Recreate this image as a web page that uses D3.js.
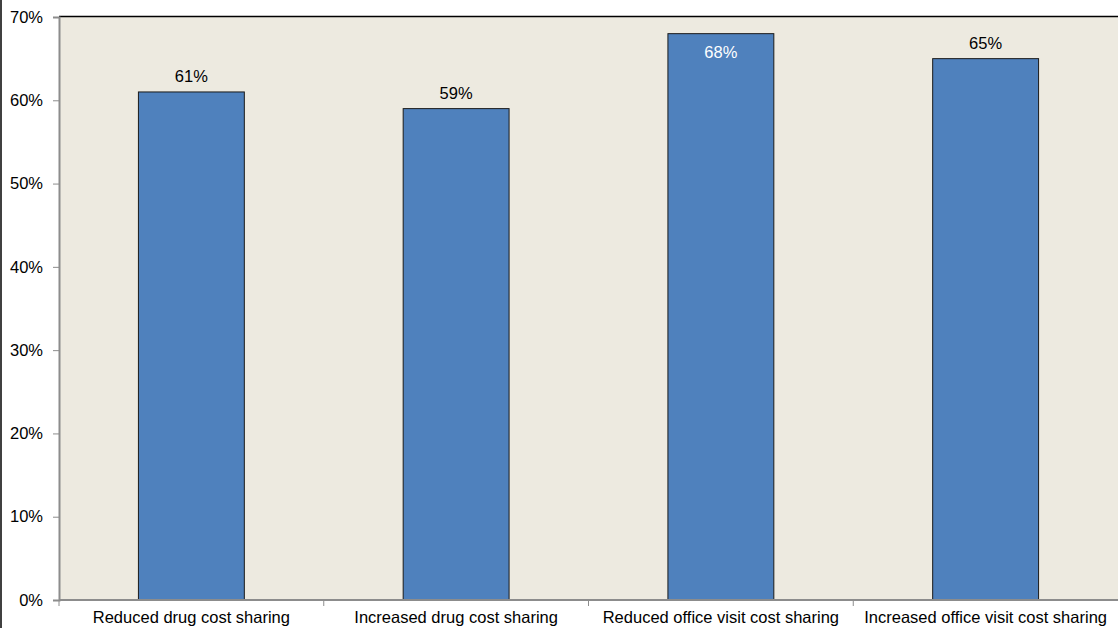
<!DOCTYPE html>
<html>
<head>
<meta charset="utf-8">
<script src="https://cdn.jsdelivr.net/npm/d3@7"></script>
<style>
  html, body { margin: 0; padding: 0; background: #fff; }
  svg { display: block; }
  text { font-family: "Liberation Sans", Arial, sans-serif; }
</style>
</head>
<body>
<svg id="chart" width="1118" height="628"></svg>
<script>
// Share of respondents by cost-sharing change
const categories = [
  "Reduced drug cost sharing",
  "Increased drug cost sharing",
  "Reduced office visit cost sharing",
  "Increased office visit cost sharing"
];
const values = [61, 59, 68, 65];
const yTicks = [0, 10, 20, 30, 40, 50, 60, 70];

const W = 1118, H = 628;
const margin = { top: 17, right: 0, bottom: 28, left: 59 };
const FS = 16.5;
const svg = d3.select("#chart");

const x = d3.scaleBand()
  .domain(categories)
  .range([margin.left, W - margin.right])
  .paddingInner(0)
  .paddingOuter(0);

const y = d3.scaleLinear()
  .domain([0, 70])
  .range([H - margin.bottom, margin.top]);

// outer frame line on the left
svg.append("line")
  .attr("x1", 1).attr("x2", 1)
  .attr("y1", 0).attr("y2", H)
  .attr("stroke", "#000").attr("stroke-width", 1.5);

// plot background
svg.append("rect")
  .attr("x", margin.left)
  .attr("y", margin.top)
  .attr("width", W - margin.right - margin.left)
  .attr("height", y(0) - margin.top)
  .attr("fill", "#EDEAE0");

// top border of the plot area
svg.append("line")
  .attr("x1", margin.left).attr("x2", W)
  .attr("y1", margin.top - 0.5).attr("y2", margin.top - 0.5)
  .attr("stroke", "#000").attr("stroke-width", 1.5);

// bars
const barW = x.bandwidth() * 0.4;
svg.selectAll("rect.bar")
  .data(values)
  .join("rect")
  .attr("class", "bar")
  .attr("x", (d, i) => x(categories[i]) + (x.bandwidth() - barW) / 2)
  .attr("y", d => y(d))
  .attr("width", barW)
  .attr("height", d => y(0) - y(d))
  .attr("fill", "#4F81BD")
  .attr("stroke", "#1a1a1a")
  .attr("stroke-width", 1);

// value labels: above the bar, or inside near the top when there is no room
const inside = d => (y(d) - margin.top < 30);
svg.selectAll("text.val")
  .data(values)
  .join("text")
  .attr("class", "val")
  .attr("x", (d, i) => x(categories[i]) + x.bandwidth() / 2)
  .attr("y", d => inside(d) ? y(d) + 24 : y(d) - 10)
  .attr("text-anchor", "middle")
  .attr("font-size", FS)
  .attr("fill", d => inside(d) ? "#ffffff" : "#000000")
  .text(d => d + "%");

// y axis
const yAxis = d3.axisLeft(y)
  .tickValues(yTicks)
  .tickSize(6)
  .tickFormat(d => d + "%");
const gy = svg.append("g")
  .attr("transform", `translate(${margin.left},0)`)
  .call(yAxis);
gy.select(".domain").attr("stroke", "#8c8c8c").attr("stroke-width", 2);
gy.selectAll(".tick line").attr("stroke", "#8c8c8c");
gy.selectAll(".tick text")
  .attr("font-size", FS)
  .attr("fill", "#000")
  .attr("x", -16)
  .attr("font-family", "Liberation Sans, Arial, sans-serif");

// x axis: ticks sit on category boundaries
const gx = svg.append("g")
  .attr("transform", `translate(0,${y(0)})`);
gx.append("line")
  .attr("x1", margin.left).attr("x2", W)
  .attr("y1", 0).attr("y2", 0)
  .attr("stroke", "#8c8c8c").attr("stroke-width", 2);
gx.selectAll("line.sep")
  .data(categories)
  .join("line")
  .attr("class", "sep")
  .attr("x1", d => x(d)).attr("x2", d => x(d))
  .attr("y1", 0).attr("y2", 6)
  .attr("stroke", "#8c8c8c");
gx.selectAll("text")
  .data(categories)
  .join("text")
  .attr("x", d => x(d) + x.bandwidth() / 2)
  .attr("y", 23)
  .attr("text-anchor", "middle")
  .attr("font-size", FS)
  .attr("fill", "#000")
  .text(d => d);
</script>
</body>
</html>
